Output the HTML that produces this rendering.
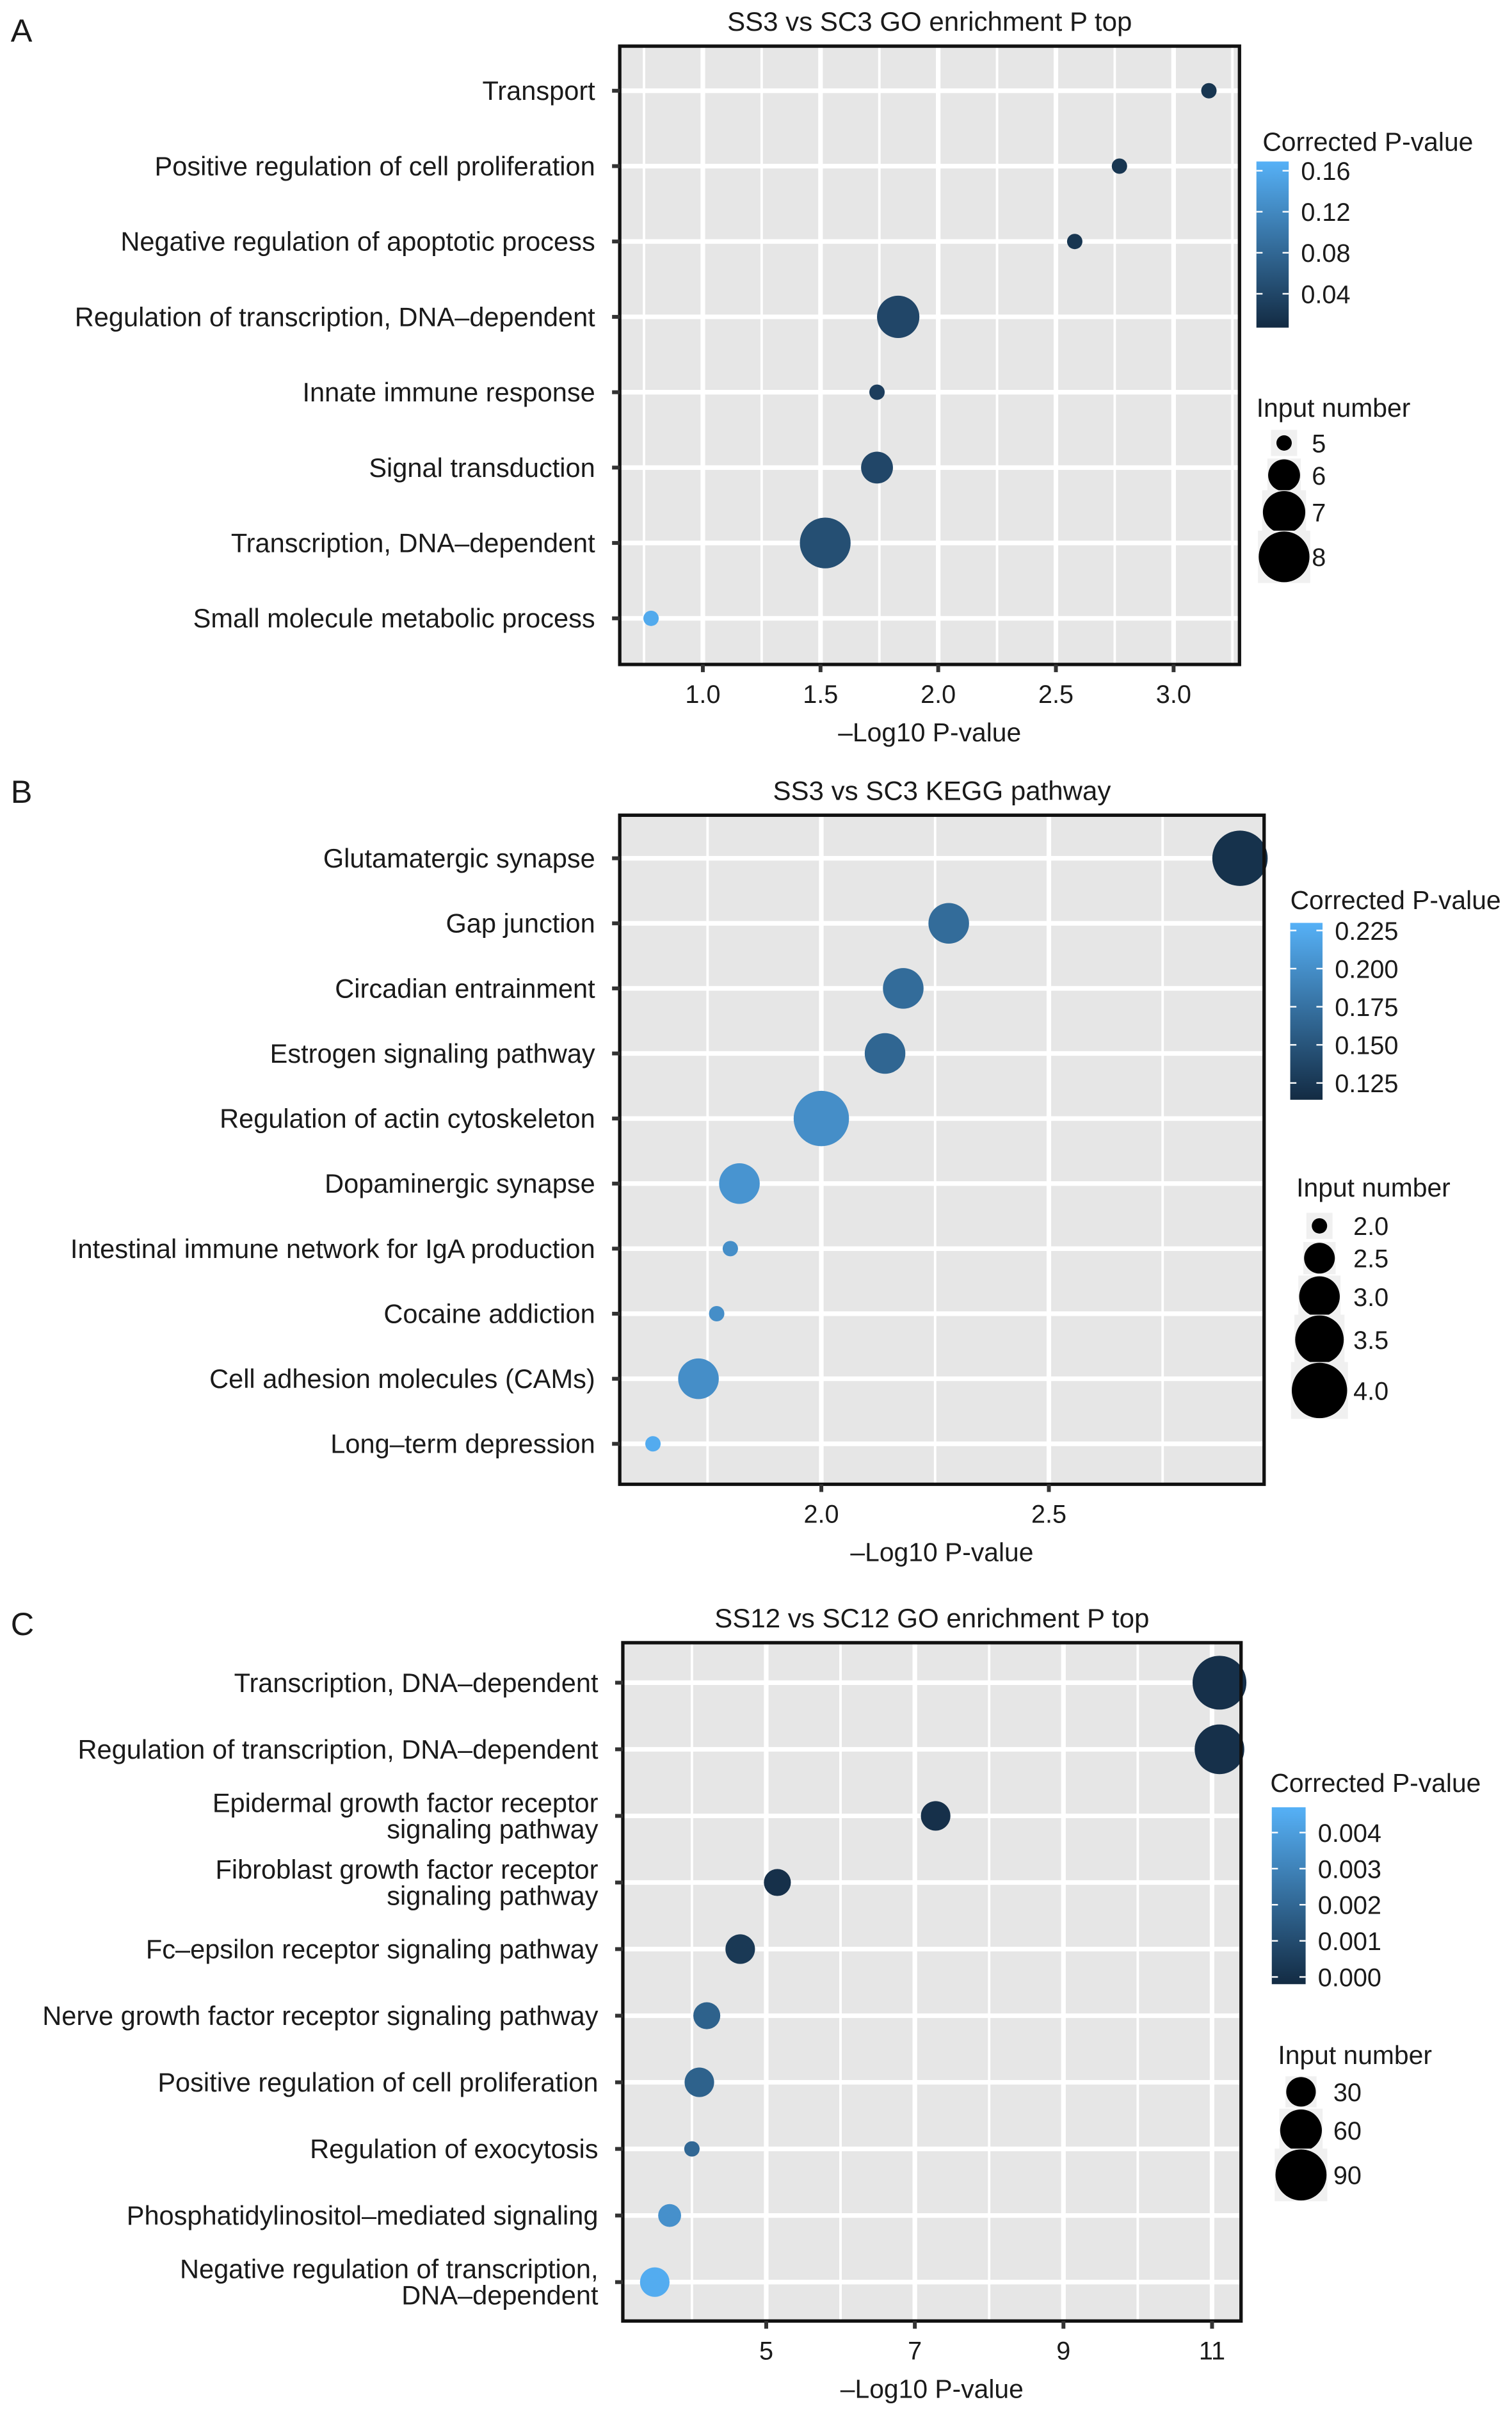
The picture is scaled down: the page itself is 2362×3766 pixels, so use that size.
<!DOCTYPE html>
<html><head><meta charset="utf-8"><style>
html,body{margin:0;padding:0;background:#fff}
svg{display:block}
text{font-family:"Liberation Sans",Arial,sans-serif;fill:#1a1a1a}
</style></head><body>
<svg id="fig" xmlns="http://www.w3.org/2000/svg" width="2362" height="3766" viewBox="0 0 983.2 1567.5" preserveAspectRatio="none"></svg>
<script>
// ---- Panel A data ----
const catsA = ["Transport","Positive regulation of cell proliferation","Negative regulation of apoptotic process","Regulation of transcription, DNA\u2013dependent","Innate immune response","Signal transduction","Transcription, DNA\u2013dependent","Small molecule metabolic process"];
const xA = [3.15,2.77,2.58,1.83,1.74,1.74,1.52,0.78];
const nA = [5,5,5,7,5,6,8,5];
const pA = [0.02,0.02,0.02,0.04,0.03,0.04,0.05,0.16];
const xTicksA = [1.0,1.5,2.0,2.5,3.0];
const xTickLabelsA = ["1.0","1.5","2.0","2.5","3.0"];
const cTicksA = [0.16,0.12,0.08,0.04];
const cTickLabelsA = ["0.16","0.12","0.08","0.04"];
const sTicksA = [5,6,7,8];
// ---- Panel B data ----
const catsB = ["Glutamatergic synapse","Gap junction","Circadian entrainment","Estrogen signaling pathway","Regulation of actin cytoskeleton","Dopaminergic synapse","Intestinal immune network for IgA production","Cocaine addiction","Cell adhesion molecules (CAMs)","Long\u2013term depression"];
const xB = [2.92,2.28,2.18,2.14,2.0,1.82,1.80,1.77,1.73,1.63];
const nB = [4,3,3,3,4,3,2,2,3,2];
const pB = [0.12,0.17,0.17,0.165,0.2,0.205,0.2,0.2,0.2,0.225];
const xTicksB = [2.0,2.5];
const xTickLabelsB = ["2.0","2.5"];
const cTicksB = [0.225,0.2,0.175,0.15,0.125];
const cTickLabelsB = ["0.225","0.200","0.175","0.150","0.125"];
const sTicksB = [2.0,2.5,3.0,3.5,4.0];
// ---- Panel C data ----
const catsC = [["Transcription, DNA\u2013dependent"],["Regulation of transcription, DNA\u2013dependent"],["Epidermal growth factor receptor","signaling pathway "],["Fibroblast growth factor receptor","signaling pathway"],["Fc\u2013epsilon receptor signaling pathway"],["Nerve growth factor receptor signaling pathway"],["Positive regulation of cell proliferation"],["Regulation of exocytosis"],["Phosphatidylinositol\u2013mediated signaling"],["Negative regulation of transcription,","DNA\u2013dependent"]];
const xC = [11.1,11.1,7.28,5.15,4.65,4.2,4.1,4.0,3.7,3.5];
const nC = [100,85,30,25,30,25,30,8,18,30];
const pC = [0.0000,0.0000,0.0000,0.0000,0.0003,0.0018,0.0018,0.002,0.0035,0.0045];
const xTicksC = [5,7,9,11];
const xTickLabelsC = ["5","7","9","11"];
const cTicksC = [0.004,0.003,0.002,0.001,0.000];
const cTickLabelsC = ["0.004","0.003","0.002","0.001","0.000"];
const sTicksC = [30,60,90];

const svg = document.getElementById('fig');
const NS = 'http://www.w3.org/2000/svg';
function mk(tag, attrs, parent){const e=document.createElementNS(NS,tag);for(const k in attrs)e.setAttribute(k,attrs[k]);(parent||svg).appendChild(e);return e;}
function lerpColor(t){t=Math.max(0,Math.min(1,t));const a=[0x13,0x2B,0x43],b=[0x56,0xB1,0xF7];return 'rgb('+a.map((v,i)=>Math.round(v+(b[i]-v)*t)).join(',')+')';}

function panel(cfg){
  const g = mk('g',{});
  
  
  const L=cfg.box[0],T=cfg.box[1],R=cfg.box[2],B=cfg.box[3];
  const xs = v => L + (v-cfg.xr[0])/(cfg.xr[1]-cfg.xr[0])*(R-L);
  const ys = i => cfg.row0 + i*cfg.rowStep;
  const cs = v => lerpColor((v-cfg.cr[0])/(cfg.cr[1]-cfg.cr[0]));
  const rs = v => Math.sqrt(cfg.rmin*cfg.rmin + (cfg.rmax*cfg.rmax-cfg.rmin*cfg.rmin)*Math.max(0,(v-cfg.sr[0]))/(cfg.sr[1]-cfg.sr[0]));
  const lt = mk('text',{x:7,y:cfg.letterY,'font-size':21},g); lt.textContent=cfg.letter;
   
  const tt = mk('text',{x:(L+R)/2,y:T-10,'font-size':17.5,'text-anchor':'middle'},g); tt.textContent=cfg.title;
   
  const bg = mk('rect',{x:L,y:T,width:R-L,height:B-T,fill:'#e6e6e6'},g);
   
  for(let v=cfg.minorStart; v<=cfg.xr[1]; v+=cfg.minorStep){
    const gl = mk('line',{x1:xs(v),x2:xs(v),y1:T,y2:B,stroke:'#fff','stroke-width':1.6},g);
     
  }
  cfg.xt.forEach(v=>{
    const gl = mk('line',{x1:xs(v),x2:xs(v),y1:T,y2:B,stroke:'#fff','stroke-width':3},g);
     
  });
  cfg.cats.forEach((c,i)=>{
    const gl = mk('line',{x1:L,x2:R,y1:ys(i),y2:ys(i),stroke:'#fff','stroke-width':3},g);
     
  });
  cfg.cats.forEach((c,i)=>{
    const p = mk('circle',{cx:xs(cfg.x[i]),cy:ys(i),r:rs(cfg.n[i]),fill:cs(cfg.p[i])},g);
     
  });
  const bx = mk('rect',{x:L,y:T,width:R-L,height:B-T,fill:'none',stroke:'#111','stroke-width':2.2},g);
   
  cfg.cats.forEach((c,i)=>{
    const lines = Array.isArray(c)?c:[c];
    const tk = mk('line',{x1:L-5,x2:L,y1:ys(i),y2:ys(i),stroke:'#333','stroke-width':2.5},g);
     
    lines.forEach((s,j)=>{
      const yy = ys(i) + 6 + (j-(lines.length-1)/2)*17;
      const t = mk('text',{x:L-16,y:yy,'font-size':17.3,'text-anchor':'end'},g); t.textContent=s;
       
    });
  });
  cfg.xt.forEach((v,i)=>{
    const tk = mk('line',{x1:xs(v),x2:xs(v),y1:B,y2:B+5,stroke:'#333','stroke-width':2.5},g);
     
    const t = mk('text',{x:xs(v),y:B+25,'font-size':16.5,'text-anchor':'middle'},g); t.textContent=cfg.xtl[i];
     
  });
  const xt = mk('text',{x:(L+R)/2,y:B+50,'font-size':17,'text-anchor':'middle'},g); xt.textContent='\u2013Log10 P-value';
   
  const [cx,cy,cw,ch] = cfg.cb;
  const ct = mk('text',{x:cfg.cbTitle[0],y:cfg.cbTitle[1],'font-size':17},g); ct.textContent='Corrected P-value';
   
  const grad = mk('linearGradient',{id:'gr'+cfg.letter,x1:0,y1:1,x2:0,y2:0},g);
  mk('stop',{offset:0,'stop-color':cs(cfg.cr[0])},grad); mk('stop',{offset:1,'stop-color':cs(cfg.cr[1])},grad);
  const cr = mk('rect',{x:cx,y:cy,width:cw,height:ch,fill:'url(#gr'+cfg.letter+')'},g);
   
  const cys = v => cy+ch - (v-cfg.cr[0])/(cfg.cr[1]-cfg.cr[0])*ch;
  cfg.ct.forEach((v,i)=>{
    mk('line',{x1:cx,x2:cx+4,y1:cys(v),y2:cys(v),stroke:'#fff','stroke-width':1},g);
    mk('line',{x1:cx+cw-4,x2:cx+cw,y1:cys(v),y2:cys(v),stroke:'#fff','stroke-width':1},g);
    const t = mk('text',{x:cx+cw+8,y:cys(v)+6,'font-size':16.5},g); t.textContent=cfg.ctl[i];
     
  });
  const st = mk('text',{x:cfg.szTitle[0],y:cfg.szTitle[1],'font-size':17},g); st.textContent='Input number';
   
  cfg.st.forEach((v,i)=>{
    const r = rs(v), yy = cfg.szY[i], k = Math.max(17, 2*r+1);
    mk('rect',{x:cfg.szX-k/2,y:yy-k/2,width:k,height:k,fill:'#f0f0f0'},g);
    const c = mk('circle',{cx:cfg.szX,cy:yy,r:r,fill:'#000'},g);
     
    const t = mk('text',{x:cfg.szLX,y:yy+6,'font-size':16.5},g); t.textContent = cfg.stl[i];
     
  });
}

panel({name:'panel-a-go-enrichment',letter:'A',letterY:27,title:'SS3 vs SC3 GO enrichment P top',box:[403,30,806,432],xr:[0.647,3.28],
  row0:59,rowStep:49.0,cats:catsA,x:xA,n:nA,p:pA,xt:xTicksA,xtl:xTickLabelsA,minorStart:0.75,minorStep:0.5,
  cr:[0.007,0.169],sr:[5,8],rmin:5,rmax:16.5,cb:[817,105,21,108],cbTitle:[821,98],ct:cTicksA,ctl:cTickLabelsA,
  szTitle:[817,271],st:sTicksA,stl:["5","6","7","8"],szX:835,szY:[288,309,333,362],szLX:853});
panel({name:'panel-b-kegg-pathway',letter:'B',letterY:522,title:'SS3 vs SC3 KEGG pathway',box:[403,530,822,965],xr:[1.557,2.973],
  row0:558,rowStep:42.3,cats:catsB,x:xB,n:nB,p:pB,xt:xTicksB,xtl:xTickLabelsB,minorStart:1.75,minorStep:0.5,
  cr:[0.114,0.23],sr:[2,4],rmin:5,rmax:18,cb:[839,600,21,115],cbTitle:[839,591],ct:cTicksB,ctl:cTickLabelsB,
  szTitle:[843,778],st:sTicksB,stl:["2.0","2.5","3.0","3.5","4.0"],szX:858,szY:[797,818,843,871,904],szLX:880});
panel({name:'panel-c-go-enrichment',letter:'C',letterY:1063,title:'SS12 vs SC12 GO enrichment P top',box:[405,1068,807,1509],xr:[3.07,11.39],
  row0:1094,rowStep:43.3,cats:catsC,x:xC,n:nC,p:pC,xt:xTicksC,xtl:xTickLabelsC,minorStart:4,minorStep:2,
  cr:[-0.0002,0.0047],sr:[8,100],rmin:5,rmax:17.5,cb:[827,1175,22,115],cbTitle:[826,1165],ct:cTicksC,ctl:cTickLabelsC,
  szTitle:[831,1342],st:sTicksC,stl:["30","60","90"],szX:846,szY:[1360,1385,1414],szLX:867});
</script>
</body></html>
